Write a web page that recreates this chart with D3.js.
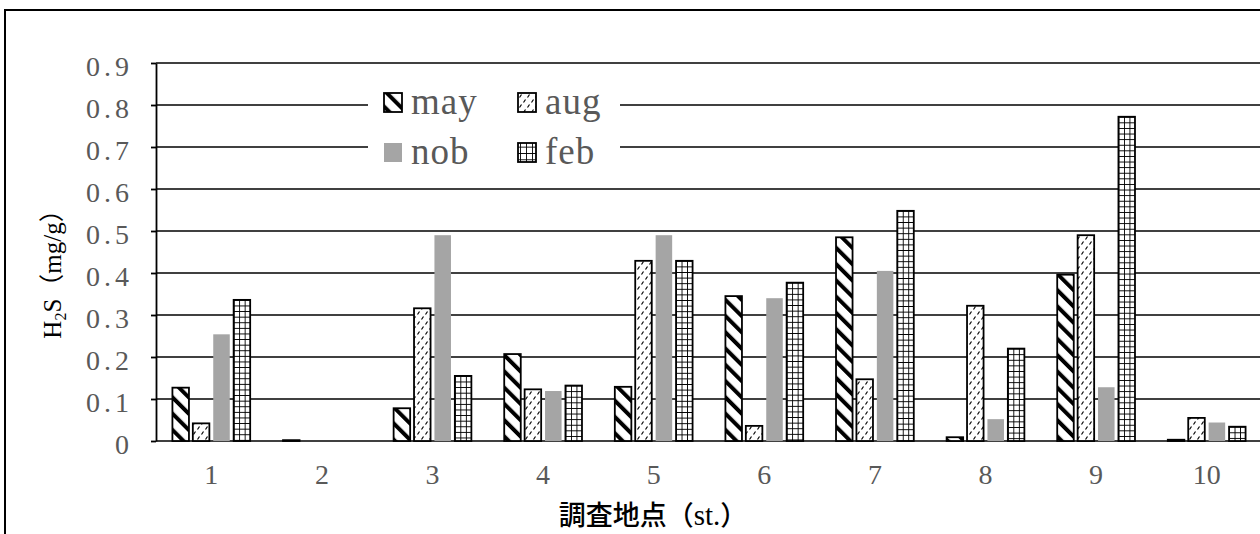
<!DOCTYPE html>
<html><head><meta charset="utf-8">
<script src="https://cdn.jsdelivr.net/npm/d3@7"></script>
<style>body{margin:0;background:#fff;} svg{display:block;}</style>
</head><body>
<svg id="chart" width="1260" height="534"></svg>
<script>
const categories = ["1","2","3","4","5","6","7","8","9","10"];
const seriesNames = ["may","aug","nob","feb"];
const mayValues = [0.127, 0.002, 0.078, 0.207, 0.129, 0.345, 0.485, 0.009, 0.396, 0.003];
const augValues = [0.042, 0, 0.316, 0.123, 0.429, 0.036, 0.147, 0.322, 0.490, 0.055];
const nobValues = [0.254, 0, 0.490, 0.119, 0.490, 0.340, 0.405, 0.052, 0.128, 0.044];
const febValues = [0.336, 0, 0.155, 0.132, 0.429, 0.377, 0.548, 0.220, 0.772, 0.034];
const yTickValues = [0, 0.1, 0.2, 0.3, 0.4, 0.5, 0.6, 0.7, 0.8, 0.9];
const yTickLabels = ["0","0.1","0.2","0.3","0.4","0.5","0.6","0.7","0.8","0.9"];
const xTitle = "調査地点（";
const xTitleLatin = "st.";
const yTitleParts = ["H", "2", "S（mg/g）"];

const valuesBySeries = {may: mayValues, aug: augValues, nob: nobValues, feb: febValues};

const W = 1260, H = 534;
const plot = {left: 156, right: 1262, top: 63, bottom: 441};
const svg = d3.select("#chart");
const defs = svg.append("defs");

const x = d3.scaleBand().domain(categories).range([plot.left, plot.right])
  .paddingInner(0.26).paddingOuter(0.13);
const xs = d3.scaleBand().domain(seriesNames).range([0, x.bandwidth()])
  .paddingInner(0.19).paddingOuter(0.1);
const y = d3.scaleLinear().domain([0, 0.9]).range([plot.bottom, plot.top]);

// patterns
const pMay = defs.append("pattern").attr("id", "pat-may")
  .attr("patternUnits", "userSpaceOnUse").attr("width", 11.5).attr("height", 11.5)
  .attr("patternTransform", "rotate(-45)");
pMay.append("rect").attr("width", 11.5).attr("height", 11.5).attr("fill", "#fff");
pMay.append("rect").attr("width", 4).attr("height", 11.5).attr("fill", "#000");

const pAug = defs.append("pattern").attr("id", "pat-aug")
  .attr("patternUnits", "userSpaceOnUse").attr("width", 8).attr("height", 10);
pAug.append("rect").attr("width", 8).attr("height", 10).attr("fill", "#fff");
pAug.append("path").attr("d", "M1.5,4.5 L3.5,1.5 M5.5,9.5 L7.5,6.5")
  .attr("stroke", "#000").attr("stroke-width", 1.2).attr("fill", "none");

function gridPattern(id, x0, y0, cw, ch) {
  const p = defs.append("pattern").attr("id", id)
    .attr("patternUnits", "userSpaceOnUse")
    .attr("x", x0).attr("y", y0).attr("width", cw).attr("height", ch);
  p.append("rect").attr("width", cw).attr("height", ch).attr("fill", "#fff");
  p.append("path").attr("d", `M0,0 V${ch} M0,0 H${cw}`)
    .attr("stroke", "#000").attr("stroke-width", 1.8).attr("fill", "none");
  return `url(#${id})`;
}

// outer frame
svg.append("rect").attr("x", 5).attr("y", 10).attr("width", 1400).attr("height", 700)
  .attr("fill", "none").attr("stroke", "#000").attr("stroke-width", 2);

// gridlines
svg.append("g").selectAll("line").data(yTickValues).join("line")
  .attr("x1", plot.left).attr("x2", W + 10)
  .attr("y1", d => y(d)).attr("y2", d => y(d))
  .attr("stroke", "#000").attr("stroke-width", 1.6);

// legend
const legendItems = seriesNames.map((s, i) => ({s, col: i % 2, row: Math.floor(i / 2)}));
svg.append("rect").attr("x", 368).attr("y", 76).attr("width", 252).attr("height", 104).attr("fill", "#fff");
const lg = svg.append("g").selectAll("g").data(legendItems).join("g")
  .attr("transform", d => `translate(${384 + d.col * 134},${93 + d.row * 50})`);
lg.each(function(d) {
  const g = d3.select(this);
  const sw = 18, sh = 19;
  let fill, stroke = "#000";
  if (d.s === "may") fill = "url(#pat-may)";
  else if (d.s === "aug") fill = "url(#pat-aug)";
  else if (d.s === "nob") { fill = "#A5A5A5"; stroke = "none"; }
  else fill = gridPattern("pat-leg-feb", 384 + d.col * 134, 93 + d.row * 50, sw / 3, sh / 3);
  g.append("rect").attr("width", sw).attr("height", sh).attr("fill", fill)
    .attr("stroke", stroke).attr("stroke-width", 1.8);
  g.append("text").attr("x", 27).attr("y", 21).text(d.s)
    .attr("font-family", "Liberation Serif").attr("font-size", 37).attr("fill", "#595959")
    .attr("letter-spacing", 1);
});

// bars
const barData = [];
categories.forEach((c, ci) => {
  seriesNames.forEach(s => {
    const v = valuesBySeries[s][ci];
    if (v > 0) barData.push({c, s, v, ci});
  });
});
svg.append("g").selectAll("rect").data(barData).join("rect")
  .attr("x", d => x(d.c) + xs(d.s))
  .attr("y", d => y(d.v))
  .attr("width", xs.bandwidth())
  .attr("height", d => y(0) - y(d.v))
  .attr("fill", (d, i) => {
    if (d.s === "may") return "url(#pat-may)";
    if (d.s === "aug") return "url(#pat-aug)";
    if (d.s === "nob") return "#A5A5A5";
    return gridPattern("pat-feb-" + i, x(d.c) + xs(d.s), y(d.v), xs.bandwidth() / 3, 5.6);
  })
  .attr("stroke", d => d.s === "nob" ? "none" : "#000")
  .attr("stroke-width", 1.8);

// y axis
const yAxis = svg.append("g").attr("transform", `translate(${plot.left},0)`)
  .call(d3.axisLeft(y).tickValues(yTickValues).tickSize(5).tickSizeOuter(0).tickPadding(22)
    .tickFormat((d, i) => yTickLabels[i]));
yAxis.selectAll("path,line").attr("stroke", "#000").attr("stroke-width", 1.8);
yAxis.selectAll("text").attr("font-family", "Liberation Serif").attr("font-size", 28)
  .attr("fill", "#595959").attr("dy", "0.43em")
  .attr("textLength", (d, i) => yTickLabels[i].length * 14.3).attr("lengthAdjust", "spacing");

// x axis labels
const xAxis = svg.append("g").attr("transform", `translate(0,${plot.bottom})`)
  .call(d3.axisBottom(x).tickSize(0).tickPadding(23));
xAxis.select(".domain").remove();
xAxis.selectAll("text").attr("font-family", "Liberation Serif").attr("font-size", 28)
  .attr("fill", "#595959");

// x title
const xt = svg.append("text").attr("x", 653).attr("y", 525).attr("text-anchor", "middle")
  .attr("font-family", "Noto Sans CJK JP").attr("font-size", 27).attr("font-weight", 500).attr("fill", "#000");
xt.append("tspan").text(xTitle);
xt.append("tspan").attr("font-family", "Liberation Serif").attr("font-size", 29).text(xTitleLatin);
xt.append("tspan").text("）");

// y title
const yt = svg.append("text").attr("transform", "translate(61,268) rotate(-90)")
  .attr("text-anchor", "middle").attr("font-family", "Liberation Serif, Noto Sans CJK JP")
  .attr("font-size", 25).attr("fill", "#000");
yt.append("tspan").text(yTitleParts[0]);
yt.append("tspan").attr("font-size", 16).attr("dy", 5).text(yTitleParts[1]);
yt.append("tspan").attr("dy", -5).text(yTitleParts[2]);
</script>
</body></html>
